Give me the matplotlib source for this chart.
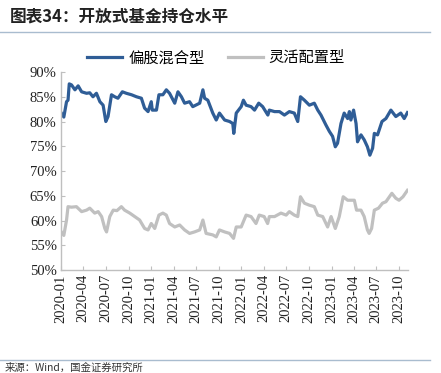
import pandas as pd
import matplotlib.pyplot as plt
from matplotlib.lines import Line2D

plt.rcParams['font.family'] = ['Noto Sans CJK SC', 'DejaVu Sans']

# Data (approximate)
equity_dates = [
    '2020-01-03', '2020-01-13', '2020-01-24', '2020-01-30', '2020-02-04', '2020-02-13',
    '2020-02-27', '2020-03-11', '2020-03-25', '2020-04-14', '2020-04-27', '2020-05-10',
    '2020-05-24', '2020-06-07', '2020-06-20', '2020-07-01', '2020-07-10', '2020-07-24',
    '2020-08-06', '2020-08-19', '2020-09-06', '2020-09-22', '2020-10-13', '2020-11-02',
    '2020-11-22', '2020-12-05', '2020-12-19', '2021-01-01', '2021-01-05', '2021-01-22',
    '2021-02-01', '2021-02-17', '2021-03-03', '2021-03-16', '2021-04-06', '2021-04-19',
    '2021-05-03', '2021-05-16', '2021-06-05', '2021-06-18', '2021-07-16', '2021-07-29',
    '2021-08-05', '2021-08-18', '2021-09-07', '2021-09-21', '2021-10-04', '2021-10-25',
    '2021-11-14', '2021-11-27', '2021-12-01', '2021-12-11', '2021-12-31', '2022-01-09',
    '2022-01-20', '2022-02-09', '2022-02-23', '2022-03-12', '2022-03-28', '2022-04-18',
    '2022-04-24', '2022-05-15', '2022-06-04', '2022-06-24', '2022-07-14', '2022-08-03',
    '2022-08-17', '2022-08-28', '2022-09-13', '2022-10-03', '2022-10-23', '2022-11-06',
    '2022-11-19', '2022-12-09', '2022-12-23', '2023-01-05', '2023-01-16', '2023-01-25',
    '2023-02-08', '2023-02-21', '2023-03-07', '2023-03-14', '2023-03-20', '2023-03-31',
    '2023-04-10', '2023-04-16', '2023-04-30', '2023-05-13', '2023-05-26', '2023-06-05',
    '2023-06-16', '2023-06-23', '2023-07-06', '2023-07-24', '2023-08-09', '2023-08-29',
    '2023-09-18', '2023-10-08', '2023-10-22', '2023-11-04',
]
equity_mix = [
    81.7, 80.9, 84.0, 84.3, 87.6, 87.4,
    86.4, 87.2, 86.0, 85.7, 85.8, 85.0,
    85.7, 84.0, 83.3, 80.0, 81.0, 85.4,
    85.0, 84.7, 86.0, 85.7, 85.4, 85.0,
    84.7, 82.7, 82.0, 84.0, 82.3, 82.3,
    85.4, 85.4, 86.4, 85.7, 83.7, 86.0,
    85.0, 83.7, 84.0, 83.0, 83.7, 86.4,
    84.7, 84.3, 81.7, 80.3, 81.7, 80.3,
    80.0, 79.6, 77.6, 81.7, 83.0, 84.3,
    83.3, 83.0, 82.3, 83.7, 83.0, 81.3,
    82.3, 82.0, 82.0, 81.3, 82.0, 81.7,
    80.0, 85.0, 84.3, 83.3, 83.7, 82.3,
    81.3, 79.3, 78.0, 77.0, 74.9, 75.6,
    79.6, 81.7, 80.6, 82.0, 80.3, 82.3,
    79.6, 75.9, 77.3, 76.3, 74.9, 73.2,
    74.6, 77.6, 77.3, 80.0, 80.6, 82.3,
    81.0, 81.7, 80.6, 81.8,
]

flex_dates = [
    '2020-01-03', '2020-01-13', '2020-01-24', '2020-01-30', '2020-02-13', '2020-03-04',
    '2020-03-25', '2020-04-14', '2020-04-27', '2020-05-17', '2020-05-31', '2020-06-14',
    '2020-06-27', '2020-07-04', '2020-07-17', '2020-07-31', '2020-08-15', '2020-09-02',
    '2020-09-15', '2020-10-06', '2020-10-26', '2020-11-15', '2020-12-05', '2020-12-19',
    '2021-01-01', '2021-01-15', '2021-02-01', '2021-02-17', '2021-03-03', '2021-03-16',
    '2021-04-06', '2021-04-26', '2021-05-16', '2021-06-05', '2021-06-25', '2021-07-16',
    '2021-07-29', '2021-08-11', '2021-09-07', '2021-09-21', '2021-10-04', '2021-10-25',
    '2021-11-14', '2021-11-30', '2021-12-11', '2021-12-31', '2022-01-20', '2022-02-09',
    '2022-03-01', '2022-03-14', '2022-04-03', '2022-04-17', '2022-04-24', '2022-05-15',
    '2022-06-10', '2022-07-01', '2022-07-14', '2022-08-03', '2022-08-17', '2022-08-28',
    '2022-09-13', '2022-10-03', '2022-10-23', '2022-11-06', '2022-11-26', '2022-12-16',
    '2022-12-30', '2023-01-16', '2023-02-01', '2023-02-17', '2023-03-07', '2023-04-03',
    '2023-04-12', '2023-04-30', '2023-05-13', '2023-05-26', '2023-06-02', '2023-06-12',
    '2023-06-23', '2023-07-10', '2023-07-26', '2023-08-09', '2023-09-02', '2023-09-18',
    '2023-10-01', '2023-10-17', '2023-11-04',
]
flexible = [
    57.7, 57.0, 60.1, 62.8, 62.7, 62.8,
    61.8, 62.1, 62.5, 61.5, 61.8, 60.8,
    58.4, 57.7, 60.8, 62.1, 62.0, 62.8,
    62.1, 61.5, 60.8, 60.1, 58.4, 58.1,
    59.4, 58.4, 61.1, 61.5, 61.1, 59.4,
    58.7, 59.1, 58.1, 57.4, 57.7, 58.1,
    60.1, 57.4, 57.1, 56.7, 58.1, 57.7,
    57.4, 56.4, 58.7, 58.7, 61.1, 60.8,
    59.4, 61.1, 60.8, 59.4, 60.8, 60.8,
    61.5, 61.1, 61.8, 61.1, 60.8, 64.8,
    63.5, 63.1, 62.8, 61.1, 60.8, 58.7,
    60.8, 58.4, 60.8, 64.8, 64.1, 64.1,
    62.1, 62.1, 60.8, 58.1, 57.4, 58.4,
    62.1, 62.5, 63.5, 63.8, 65.5, 64.5,
    64.1, 64.8, 66.1,
]

tick_labels = ['2020-01', '2020-04', '2020-07', '2020-10', '2021-01', '2021-04',
               '2021-07', '2021-10', '2022-01', '2022-04', '2022-07', '2022-10',
               '2023-01', '2023-04', '2023-07', '2023-10']
y_ticks = [50, 55, 60, 65, 70, 75, 80, 85, 90]

fig = plt.figure(figsize=(4.41, 3.73), dpi=100)
ax = fig.add_axes([0.138, 0.276, 0.787, 0.531])

ax.plot(pd.to_datetime(equity_dates), equity_mix, color='#2f5d96', linewidth=2.3)
ax.plot(pd.to_datetime(flex_dates), flexible, color='#c0c0c0', linewidth=2.3)

ax.set_ylim(50, 90)
ax.set_yticks(y_ticks)
ax.set_yticklabels([f'{v}%' for v in y_ticks])
ax.set_xlim(pd.Timestamp('2020-01-01'), pd.Timestamp('2023-11-06'))
ax.set_xticks(pd.to_datetime([t + '-01' for t in tick_labels]))
ax.set_xticklabels(tick_labels, rotation=90)

for lbl in ax.get_xticklabels() + ax.get_yticklabels():
    lbl.set_fontfamily('Liberation Serif')
    lbl.set_fontsize(10.5)
    lbl.set_color('#222222')

for s in ['top', 'right']:
    ax.spines[s].set_visible(False)
for s in ['left', 'bottom']:
    ax.spines[s].set_color('#bfbfbf')
    ax.spines[s].set_linewidth(1.0)
ax.tick_params(axis='both', direction='in', color='#bfbfbf', length=3, pad=3)

handles = [Line2D([], [], color='#2f5d96', linewidth=2.3),
           Line2D([], [], color='#c0c0c0', linewidth=2.3)]
fig.legend(handles, ['偏股混合型', '灵活配置型'], loc='center', bbox_to_anchor=(0.49, 0.845),
           ncol=2, frameon=False, fontsize=11, handlelength=2.3, columnspacing=1.5,
           handletextpad=0.4)

fig.text(0.022, 0.955, '图表34：开放式基金持仓水平', fontsize=12, fontweight='bold',
         fontstyle='italic', color='#222222', va='center', ha='left')
fig.add_artist(Line2D([0.0, 0.975], [0.914, 0.914], color='#a9bccf', linewidth=1.0))
fig.add_artist(Line2D([0.0, 0.975], [0.035, 0.035], color='#a9bccf', linewidth=1.0))
fig.text(0.01, 0.028, '来源：Wind，国金证券研究所', fontsize=7.5, color='#333333',
         va='top', ha='left')

plt.savefig('out.png', dpi=100)
